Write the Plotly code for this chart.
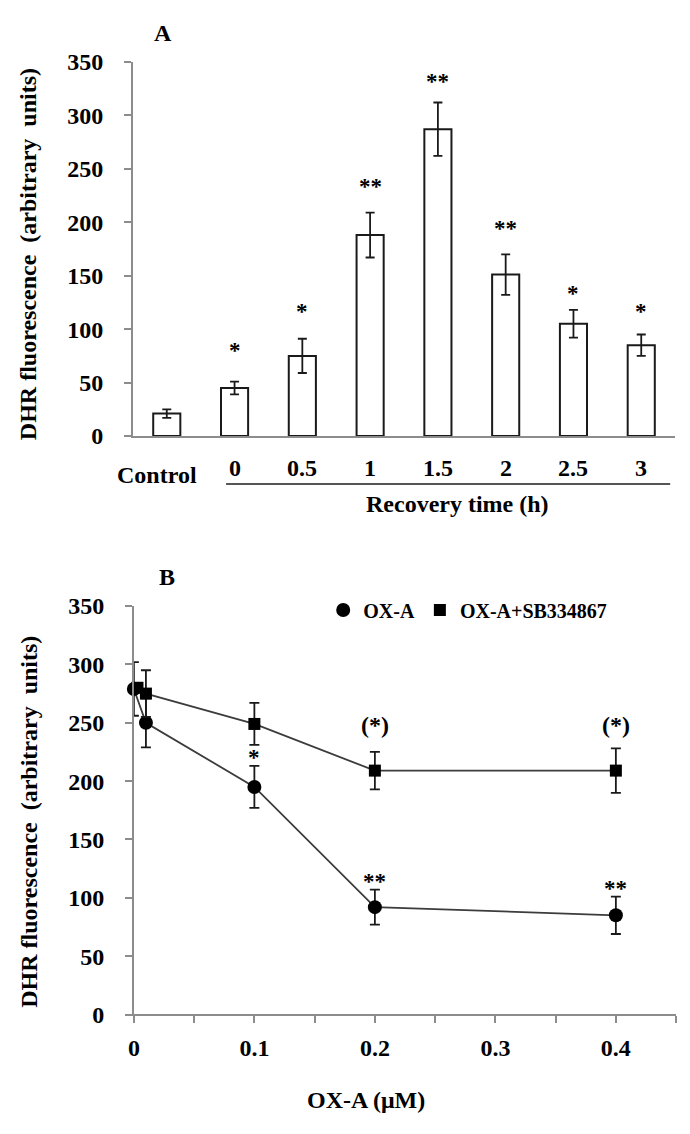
import plotly.graph_objects as go

# ---------------- data ----------------
# Panel A
categories = ["Control", "0", "0.5", "1", "1.5", "2", "2.5", "3"]
fluor_A = [21, 45, 75, 188, 287, 151, 105, 85]
err_A = [4, 6, 16, 21, 25, 19, 13, 10]
sig_A = ["", "*", "*", "**", "**", "**", "*", "*"]
sig_A_level = [0, 84, 120, 237, 335, 198, 137, 120]

# Panel B
conc_oxa = [0, 0.01, 0.1, 0.2, 0.4]
fluor_oxa = [279, 250, 195, 92, 85]
err_oxa = [23, 21, 18, 15, 16]
sig_oxa = ["", "", "*", "**", "**"]
sig_oxa_level = [0, 0, 224, 117, 111]

conc_sb = [0.003, 0.01, 0.1, 0.2, 0.4]
fluor_sb = [280, 275, 249, 209, 209]
err_sb = [0, 20, 18, 16, 19]
sig_sb = ["", "", "", "(*)", "(*)"]
sig_sb_level = [0, 0, 0, 248, 248]

b_ticks = [0, 0.05, 0.1, 0.15, 0.2, 0.25, 0.3, 0.35, 0.4, 0.45]
b_ticktext = ["0", "", "0.1", "", "0.2", "", "0.3", "", "0.4", ""]

# ---------------- layout helpers ----------------
W, H = 690, 1134
FONT = "Liberation Serif"
AX = "#8c8c8c"
FS = 24


def px(x):
    return x / W


def py(y):
    return 1 - y / H


def font(size, color="black"):
    return dict(family=FONT, size=size, color=color, weight="bold")


fig = go.Figure()

# ---- Panel A bars ----
fig.add_trace(go.Bar(
    x=categories, y=fluor_A, width=0.4,
    marker=dict(color="white", line=dict(color="#1a1a1a", width=2)),
    error_y=dict(type="data", array=err_A, color="#1a1a1a", thickness=1.8, width=4.5),
    xaxis="x", yaxis="y", showlegend=False,
))

# ---- Panel B lines ----
fig.add_trace(go.Scatter(
    x=conc_oxa, y=fluor_oxa, mode="lines",
    line=dict(color="#3c3c3c", width=1.8),
    xaxis="x2", yaxis="y2", showlegend=False, cliponaxis=False,
))
fig.add_trace(go.Scatter(
    x=conc_sb, y=fluor_sb, mode="lines",
    line=dict(color="#3c3c3c", width=1.8),
    xaxis="x2", yaxis="y2", showlegend=False, cliponaxis=False,
))
fig.add_trace(go.Scatter(
    x=conc_oxa, y=fluor_oxa, mode="markers", name="OX-A",
    marker=dict(symbol="circle", size=14, color="black"),
    error_y=dict(type="data", array=err_oxa, color="#1a1a1a", thickness=1.8, width=5),
    xaxis="x2", yaxis="y2", cliponaxis=False,
))
fig.add_trace(go.Scatter(
    x=conc_sb, y=fluor_sb, mode="markers", name="OX-A+SB334867",
    marker=dict(symbol="square", size=12, color="black"),
    error_y=dict(type="data", array=err_sb, color="#1a1a1a", thickness=1.8, width=5),
    xaxis="x2", yaxis="y2", cliponaxis=False,
))

annotations = []
# significance marks panel A (x given as category index)
for i, (s, lv) in enumerate(zip(sig_A, sig_A_level)):
    if s:
        annotations.append(dict(x=i, y=lv, xref="x", yref="y", text=s, showarrow=False,
                                font=font(23), yanchor="middle", yshift=-4))
# category labels panel A
for i, c in enumerate(categories):
    if i == 0:
        annotations.append(dict(x=i, y=0, xref="x", yref="y", text=c, showarrow=False,
                                font=font(FS), yanchor="middle", yshift=-39, xshift=-10))
    else:
        annotations.append(dict(x=i, y=0, xref="x", yref="y", text=c, showarrow=False,
                                font=font(FS), yanchor="middle", yshift=-32))
# significance marks panel B
for x, s, lv in zip(conc_oxa, sig_oxa, sig_oxa_level):
    if s:
        annotations.append(dict(x=x, y=lv, xref="x2", yref="y2", text=s, showarrow=False,
                                font=font(23), yanchor="middle", yshift=-4))
for x, s, lv in zip(conc_sb, sig_sb, sig_sb_level):
    if s:
        annotations.append(dict(x=x, y=lv, xref="x2", yref="y2", text=s, showarrow=False,
                                font=font(FS), yanchor="middle"))

# titles and axis titles
annotations += [
    dict(x=px(158), y=py(20), xref="paper", yref="paper", text="A", showarrow=False,
         font=font(FS), xanchor="center", yanchor="middle"),
    dict(x=px(162), y=py(577), xref="paper", yref="paper", text="B", showarrow=False,
         font=font(FS), xanchor="center", yanchor="middle"),
    dict(x=px(23), y=py(247), xref="paper", yref="paper",
         text="DHR fluorescence&nbsp;&nbsp;(arbitrary&nbsp;&nbsp;units)", showarrow=False,
         font=font(FS), textangle=-90, xanchor="center", yanchor="middle"),
    dict(x=px(23), y=py(828), xref="paper", yref="paper",
         text="DHR fluorescence&nbsp;&nbsp;(arbitrary&nbsp;&nbsp;units)", showarrow=False,
         font=font(FS), textangle=-90, xanchor="center", yanchor="middle"),
    dict(x=px(455), y=py(503), xref="paper", yref="paper", text="Recovery time (h)",
         showarrow=False, font=font(FS), xanchor="center", yanchor="middle"),
    dict(x=px(363), y=py(1113), xref="paper", yref="paper", text="OX-A (μM)",
         showarrow=False, font=font(FS), xanchor="center", yanchor="middle"),
]

shapes = [
    # underline of recovery time labels
    dict(type="line", xref="paper", yref="paper", x0=px(222), x1=px(670), y0=py(482), y1=py(482),
         line=dict(color="#555555", width=2)),
    # end ticks of panel A x axis
    dict(type="line", xref="x domain", yref="y", x0=0, x1=0, y0=0, y1=-8,
         ysizemode="pixel", yanchor=0, line=dict(color=AX, width=1.5)),
    dict(type="line", xref="x domain", yref="y", x0=1, x1=1, y0=0, y1=-8,
         ysizemode="pixel", yanchor=0, line=dict(color=AX, width=1.5)),
]

yax_common = dict(
    range=[0, 350], dtick=50, tick0=0, ticks="outside", ticklen=7, tickcolor=AX, tickwidth=1.5,
    showline=True, linecolor=AX, linewidth=1.5, showgrid=False, zeroline=False,
    tickfont=font(FS), ticklabelstandoff=16,
)

fig.update_layout(
    width=W, height=H, margin=dict(l=0, r=0, t=0, b=0),
    paper_bgcolor="white", plot_bgcolor="white",
    xaxis=dict(domain=[px(128), px(675)], type="category", categoryorder="array",
               categoryarray=categories, range=[-0.5, 7.5], showline=True, linecolor=AX,
               linewidth=1.5, ticks="", showticklabels=False, showgrid=False, zeroline=False,
               anchor="y"),
    yaxis=dict(domain=[py(433), py(50)], anchor="x", **yax_common),
    xaxis2=dict(domain=[px(129), px(676)], range=[0, 0.45], tickvals=b_ticks, ticktext=b_ticktext,
                ticks="outside", ticklen=7, tickcolor=AX, tickwidth=1.5, showline=True,
                linecolor=AX, linewidth=1.5, showgrid=False, zeroline=False,
                tickfont=font(FS), ticklabelstandoff=4, anchor="y2"),
    yaxis2=dict(domain=[py(1025), py(607)], anchor="x2", **yax_common),
    legend=dict(orientation="h", x=px(320), y=py(611), xanchor="left", yanchor="middle",
                font=font(20), bgcolor="rgba(0,0,0,0)", itemsizing="trace",
                tracegroupgap=0, itemclick=False),
    annotations=annotations,
    shapes=shapes,
    bargap=0.6,
)

# remove the browser's default 8px page margin so the figure starts at the window corner
fig.write_html(
    "out.html",
    config={"displayModeBar": False},
    post_script="document.body.style.margin='0';document.body.style.overflow='hidden';",
)
